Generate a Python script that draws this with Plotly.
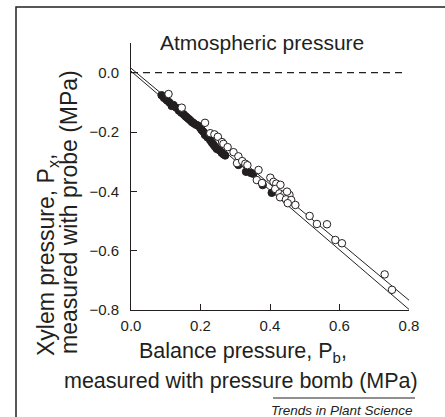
import plotly.graph_objects as go

# ---- data ----
filled_x = [0.088, 0.095, 0.103, 0.110, 0.117, 0.122, 0.130, 0.138, 0.145, 0.151, 0.156, 0.160,
            0.165, 0.170, 0.175, 0.180, 0.186, 0.192, 0.199, 0.203, 0.208, 0.213, 0.220, 0.228,
            0.233, 0.237, 0.242, 0.247, 0.255, 0.261, 0.266, 0.271, 0.309, 0.331, 0.345, 0.352,
            0.379, 0.405]
filled_y = [-0.076, -0.085, -0.093, -0.100, -0.112, -0.109, -0.118, -0.128, -0.135, -0.140, -0.146, -0.150,
            -0.155, -0.160, -0.166, -0.170, -0.175, -0.178, -0.186, -0.193, -0.199, -0.210, -0.218, -0.228,
            -0.236, -0.242, -0.250, -0.257, -0.262, -0.270, -0.275, -0.279, -0.311, -0.334, -0.338, -0.341,
            -0.379, -0.405]

open_x = [0.108, 0.146, 0.213, 0.228, 0.240, 0.250, 0.262, 0.266, 0.278, 0.295, 0.309, 0.305, 0.320,
          0.329, 0.335, 0.367, 0.362, 0.377, 0.401, 0.410, 0.418, 0.415, 0.430, 0.427, 0.441, 0.456,
          0.449, 0.429, 0.446, 0.461, 0.451, 0.473, 0.514, 0.535, 0.564, 0.588, 0.607, 0.730, 0.751]
open_y = [-0.072, -0.118, -0.169, -0.204, -0.208, -0.216, -0.234, -0.240, -0.251, -0.268, -0.282, -0.305, -0.298,
          -0.307, -0.312, -0.328, -0.362, -0.372, -0.354, -0.368, -0.374, -0.392, -0.378, -0.407, -0.410, -0.412,
          -0.401, -0.420, -0.427, -0.429, -0.440, -0.446, -0.483, -0.510, -0.511, -0.564, -0.575, -0.680, -0.732]

fit_x = [0.0, 0.8]
fit_upper_y = [0.015, -0.767]
fit_lower_y = [0.005, -0.798]

atm_x = [0.0, 0.78]
atm_y = [0.0, 0.0]

x_ticks = [0.0, 0.2, 0.4, 0.6, 0.8]
y_ticks = [0.0, -0.2, -0.4, -0.6, -0.8]

INK = "#231f20"
FONT = "Liberation Sans, Arial, sans-serif"

fig = go.Figure()
fig.add_trace(go.Scatter(x=atm_x, y=atm_y, mode="lines",
                         line=dict(color=INK, width=1.3, dash="7px,5px"), hoverinfo="skip"))
fig.add_trace(go.Scatter(x=fit_x, y=fit_upper_y, mode="lines", line=dict(color=INK, width=1)))
fig.add_trace(go.Scatter(x=fit_x, y=fit_lower_y, mode="lines", line=dict(color=INK, width=1)))
fig.add_trace(go.Scatter(x=filled_x, y=filled_y, mode="markers",
                         marker=dict(size=7.5, color=INK, line=dict(color=INK, width=1))))
fig.add_trace(go.Scatter(x=open_x, y=open_y, mode="markers",
                         marker=dict(size=7.5, color="white", line=dict(color=INK, width=1))))

# plot area in pixels: x 131..409, y 43..310
L, R, T, B = 131, 409, 43, 310
W, H = 445, 417
def px(xp):
    return (xp - L) / (R - L)
def py(yp):
    return (B - yp) / (B - T)

fig.update_layout(
    width=W, height=H,
    margin=dict(l=L, r=W - R, t=T, b=H - B, pad=0),
    paper_bgcolor="white", plot_bgcolor="white",
    showlegend=False,
    font=dict(family=FONT, color=INK, size=15),
    xaxis=dict(range=[0, 0.8], tickvals=x_ticks, tickformat=".1f",
               showline=True, linecolor=INK, linewidth=1, ticks="inside", ticklen=6,
               tickcolor=INK, showgrid=False, zeroline=False, tickfont=dict(size=15),
               ticklabelstandoff=2),
    yaxis=dict(range=[-0.8, 0.1], tickvals=y_ticks, tickformat=".1f",
               showline=True, linecolor=INK, linewidth=1, ticks="inside", ticklen=6,
               tickcolor=INK, showgrid=False, zeroline=False, tickfont=dict(size=15),
               ticklabelstandoff=8),
)

ann = [
    dict(text="Atmospheric pressure", x=px(262), y=py(42), xanchor="center", yanchor="middle",
         font=dict(size=21)),
    dict(text="Balance pressure, P<sub>b</sub>,", x=px(243), y=py(352), xanchor="center",
         yanchor="middle", font=dict(size=21.5)),
    dict(text="measured with pressure bomb (MPa)", x=px(241), y=py(381), xanchor="center",
         yanchor="middle", font=dict(size=21.5)),
    dict(text="Xylem pressure, P<sub>x</sub>,", x=px(47), y=py(358), xanchor="center",
         yanchor="bottom", textangle=-90, font=dict(size=23)),
    dict(text="measured with probe (MPa)", x=px(69), y=py(356), xanchor="center",
         yanchor="bottom", textangle=-90, font=dict(size=23)),
    dict(text="<i>Trends in Plant Science</i>", x=px(415), y=py(410), xanchor="right",
         yanchor="middle", font=dict(size=13.5)),
]
for a in ann:
    a.update(xref="paper", yref="paper", showarrow=False)
    fig.add_annotation(**a)

# outer frame (left and top edges visible) and the rule above the credit
fig.add_shape(type="rect", xref="paper", yref="paper",
              x0=px(16), x1=px(452), y0=py(425), y1=py(7),
              line=dict(color=INK, width=1.5), layer="below")
fig.add_shape(type="line", xref="paper", yref="paper",
              x0=px(273), x1=px(415), y0=py(398), y1=py(398),
              line=dict(color=INK, width=1))

fig.write_html(
    "out.html",
    config={"displayModeBar": False},
    post_script="document.body.style.margin='0';document.documentElement.style.overflow='hidden';",
)
